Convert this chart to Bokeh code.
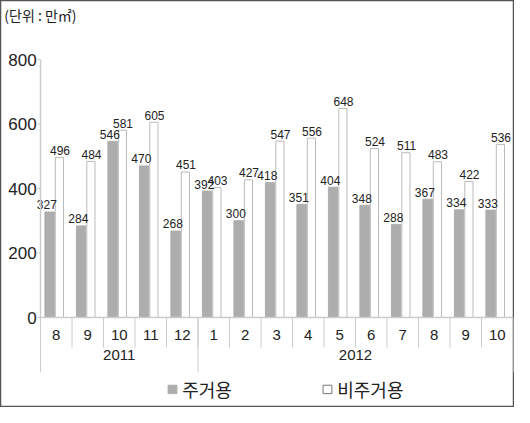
from bokeh.plotting import figure
from bokeh.models import Range1d
from bokeh.core.properties import value
from bokeh.embed import file_html
from bokeh.resources import INLINE

months = ["8", "9", "10", "11", "12", "1", "2", "3", "4", "5", "6", "7", "8", "9", "10"]
years = ["2011", "2012"]
year_spans = [(0, 5), (5, 15)]
residential = [327, 284, 546, 470, 268, 392, 300, 418, 351, 404, 348, 288, 367, 334, 333]
non_residential = [496, 484, 581, 605, 451, 403, 427, 547, 556, 648, 524, 511, 483, 422, 536]
y_ticks = [0, 200, 400, 600, 800]
series_names = ["\uc8fc\uac70\uc6a9", "\ube44\uc8fc\uac70\uc6a9"]  # 주거용, 비주거용
unit_label = "(\ub2e8\uc704 : \ub9cc\u33a1)"  # (단위 : 만㎡)

PX = 0.3225  # px per unit on y
p = figure(width=514, height=407, output_backend="svg", toolbar_location=None,
           x_range=Range1d(-40 / 31.5, 474 / 31.5), y_range=Range1d(-348 / PX + 800, 800 + 59 / PX),
           min_border=0)
p.axis.visible = False
p.grid.visible = False
p.outline_line_color = "#555555"
p.outline_line_width = 1.5
p.background_fill_color = "white"

n = len(months)
xs = list(range(n))
gray = "#adadad"
sep = "#cccccc"

p.vbar(x=[i + 0.29 for i in xs], top=residential, width=0.3, fill_color=gray, line_color=gray)
p.vbar(x=[i + 0.6 for i in xs], top=non_residential, width=0.26, fill_color="white", line_color="#bbbbbb")

num_font = value("Liberation Sans")
p.text(x=[i + 0.2 for i in xs], y=[v + 8 for v in residential], text=[str(v) for v in residential],
       text_font=num_font, text_font_size="12px", text_align="center", text_baseline="bottom", color="#222222")
p.text(x=[i + 0.62 for i in xs], y=[v + 8 for v in non_residential], text=[str(v) for v in non_residential],
       text_font=num_font, text_font_size="12px", text_align="center", text_baseline="bottom", color="#222222")

# axes
p.segment(x0=[0], y0=[0], x1=[n], y1=[0], color=sep, line_width=1.5)
p.segment(x0=[0], y0=[0], x1=[0], y1=[800], color=sep, line_width=1.5)
p.segment(x0=[-0.1] * len(y_ticks), y0=y_ticks, x1=[0] * len(y_ticks), y1=y_ticks, color=sep)
p.text(x=[-0.12] * len(y_ticks), y=y_ticks, text=[str(t) for t in y_ticks], text_font=value("Liberation Sans"),
       text_font_size="17px", text_align="right", text_baseline="middle", color="#222222")

# month separators and labels
p.segment(x0=xs[1:], y0=[0] * (n - 1), x1=xs[1:], y1=[-93] * (n - 1), color=sep)
starts = [s for s, e in year_spans] + [n]
p.segment(x0=starts, y0=[0] * len(starts), x1=starts, y1=[-170] * len(starts), color=sep)
p.text(x=[i + 0.5 for i in xs], y=[-53] * n, text=months, text_font=value("Liberation Sans"),
       text_font_size="15px", text_align="center", text_baseline="middle", color="#222222")
p.text(x=[(s + e) / 2 for s, e in year_spans], y=[-115] * 2, text=years, text_font=value("Liberation Sans"),
       text_font_size="15px", text_align="center", text_baseline="middle", color="#222222")

# legend
p.rect(x=[4.19, 9.11], y=[-223, -223], width=0.28, height=26, fill_color=[gray, "white"],
       line_color=[gray, "#777777"])
p.text(x=[4.5, 9.42], y=[-223, -223], text=series_names, text_font=value("Noto Sans CJK KR"),
       text_font_size="18px", text_baseline="middle", color="#222222")

p.text(x=[-1.15], y=[939], text=[unit_label], text_font=value("Noto Sans CJK KR"),
       text_font_size="14px", text_baseline="middle", color="#222222")

open("out.html", "w", encoding="utf-8").write(file_html(p, INLINE))
